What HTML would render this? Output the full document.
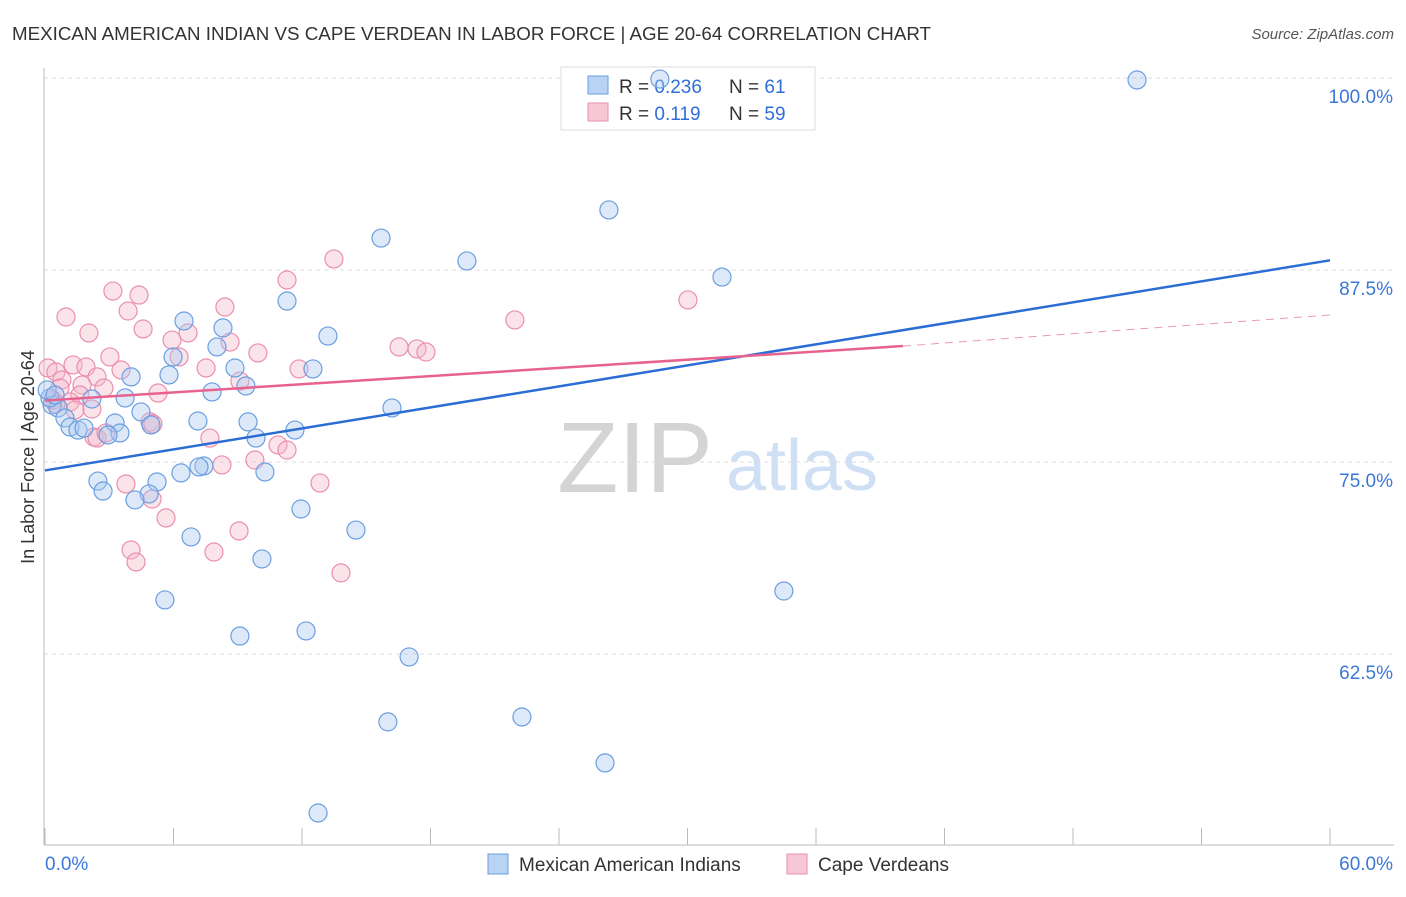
<!DOCTYPE html>
<html><head><meta charset="utf-8"><style>
body{margin:0;background:#fff;font-family:"Liberation Sans",sans-serif;}
svg text{font-family:"Liberation Sans",sans-serif;}
</style></head><body>
<svg id="chart" width="1406" height="892" xmlns="http://www.w3.org/2000/svg">
<text x="12" y="40" font-size="18" fill="#333" textLength="919" lengthAdjust="spacingAndGlyphs">MEXICAN AMERICAN INDIAN VS CAPE VERDEAN IN LABOR FORCE | AGE 20-64 CORRELATION CHART</text>
<text x="1394" y="39" font-size="15" fill="#555" text-anchor="end" font-style="italic">Source: ZipAtlas.com</text>
<g>
<text x="635" y="492" font-size="100" fill="#d4d4d4" text-anchor="middle" font-family="Liberation Serif">ZIP</text>
<text x="802" y="490" font-size="72" fill="#cfe0f5" text-anchor="middle">atlas</text>
</g>
<g id="grid"></g><g id="axes"></g>
<g>
<rect x="561" y="67" width="254" height="63" fill="#fff" stroke="#ddd"/>
<rect x="588" y="76" width="20" height="18" fill="#b8d3f3" stroke="#6b9fe0"/>
<text x="619" y="93" font-size="19" fill="#333">R = <tspan fill="#2f6fd6">0.236</tspan></text>
<text x="729" y="93" font-size="19" fill="#333">N = <tspan fill="#2f6fd6"> 61</tspan></text>
<rect x="588" y="103" width="20" height="18" fill="#f8c7d6" stroke="#ea8fae"/>
<text x="619" y="120" font-size="19" fill="#333">R = <tspan fill="#2f6fd6"> 0.119</tspan></text>
<text x="729" y="120" font-size="19" fill="#333">N = <tspan fill="#2f6fd6">59</tspan></text>
</g>
<g id="marks"></g>
<text transform="translate(34,457) rotate(-90)" font-size="18" fill="#333" text-anchor="middle">In Labor Force | Age 20-64</text>
<g>
<rect x="488" y="854" width="20" height="20" fill="#b8d3f3" stroke="#6b9fe0"/>
<text x="519" y="871" font-size="19" fill="#333">Mexican American Indians</text>
<rect x="787" y="854" width="20" height="20" fill="#f8c7d6" stroke="#ea8fae"/>
<text x="818" y="871" font-size="19" fill="#333">Cape Verdeans</text>
</g>
</svg>
<script>
const yTicks=[100,87.5,75,62.5];
const yTickLabels=["100.0%","87.5%","75.0%","62.5%"];
const xTickVals=[0,6,12,18,24,30,36,42,48,54,60];
const blueX=[50.99,26.33,15.69,19.70,31.61,11.30,6.49,8.31,13.21,8.03,5.98,8.87,12.51,5.79,4.02,9.38,7.80,3.74,2.19,16.20,4.48,0.33,0.61,0.93,1.17,1.54,1.82,3.27,3.50,2.94,4.95,7.14,9.48,9.85,11.67,7.42,7.19,6.35,10.27,2.47,2.71,5.23,4.86,4.20,11.95,14.52,6.82,10.13,5.60,34.50,9.10,12.19,17.00,16.01,22.27,26.15,12.75,28.71,0.23,0.10,0.47];
const blueY=[99.87,91.41,89.58,88.09,87.04,85.48,84.18,83.73,83.20,82.49,81.84,81.12,81.06,80.67,80.54,79.95,79.56,79.17,79.10,78.52,78.26,78.71,78.52,77.87,77.28,77.08,77.21,77.54,76.89,76.76,77.41,77.67,77.61,76.56,77.08,74.74,74.68,74.29,74.35,73.76,73.11,73.70,72.92,72.53,71.94,70.57,70.12,68.69,66.02,66.60,63.67,64.00,62.31,58.08,58.40,55.41,52.15,99.93,79.17,79.69,79.36];
const pinkX=[0.98,3.17,4.39,3.88,2.05,4.58,0.14,0.51,0.79,1.31,1.91,2.43,3.03,3.55,1.73,1.63,2.75,1.17,0.51,2.19,2.29,2.43,2.85,4.90,5.04,5.28,5.93,6.26,6.68,8.40,8.64,9.94,9.10,7.52,7.70,8.26,9.80,10.88,11.30,11.86,11.30,13.49,12.84,16.53,17.37,17.79,21.94,30.02,3.78,5.00,5.65,9.06,7.89,4.02,4.25,13.82,0.37,0.70,1.40];
const pinkY=[84.44,86.13,85.87,84.83,83.40,83.66,81.12,80.86,80.34,81.32,81.19,80.54,81.84,80.99,80.01,79.36,79.82,78.91,78.78,78.45,76.63,76.56,76.89,77.61,77.48,79.49,82.94,81.84,83.40,85.09,82.81,82.10,80.27,81.12,76.56,74.81,75.13,76.11,75.78,81.06,86.85,88.22,73.63,82.49,82.36,82.16,84.25,85.55,73.57,72.59,71.36,70.51,69.14,69.27,68.49,67.78,79.04,79.82,78.39];
const blueTrend=[[0,74.45],[60,88.13]];
const pinkTrendSolid=[[0,79.0],[40.06,82.55]];
const pinkTrendDashed=[[40.06,82.55],[60,84.57]];
const NS="http://www.w3.org/2000/svg";
const sx=v=>45+v/60*1285;
const sy=v=>78+(100-v)/12.5*192;
function mk(parent,tag,attrs){const e=document.createElementNS(NS,tag);for(const k in attrs)e.setAttribute(k,attrs[k]);document.getElementById(parent).appendChild(e);return e;}
yTicks.forEach((t,i)=>{
 const l=mk('grid','line',{x1:44,x2:1394,y1:sy(t),y2:sy(t),stroke:'#ddd','stroke-dasharray':'4,4'});
 
 
 const tx=mk('grid','text',{x:1393,y:sy(t)+25,'font-size':19,fill:'#3b78d8','text-anchor':'end'});
 tx.textContent=yTickLabels[i];
 
 
});
let a=mk('axes','line',{x1:44,x2:44,y1:68,y2:845,stroke:'#bbb'});


a=mk('axes','line',{x1:44,x2:1394,y1:845,y2:845,stroke:'#bbb'});


xTickVals.forEach(v=>{
 const t=mk('axes','line',{x1:sx(v),x2:sx(v),y1:828,y2:845,stroke:'#bbb'});
 
 
});
let xl=mk('axes','text',{x:45,y:870,'font-size':19,fill:'#3b78d8'});xl.textContent='0.0%';


xl=mk('axes','text',{x:1393,y:870,'font-size':19,fill:'#3b78d8','text-anchor':'end'});xl.textContent='60.0%';


function dots(X,Y,fill,stroke,name){X.forEach((x,i)=>{
 const c=mk('marks','circle',{cx:sx(x),cy:sy(Y[i]),r:9,fill:fill,'fill-opacity':0.4,stroke:stroke,'stroke-width':1.2});
 
 
});}
dots(pinkX,pinkY,'#f5b8cb','#ea8fae','cape-verdean-point');
dots(blueX,blueY,'#a9c8ef','#6b9fe0','mexican-american-indian-point');
function line(p,color,name,dash){
 const l=mk('marks','line',{x1:sx(p[0][0]),y1:sy(p[0][1]),x2:sx(p[1][0]),y2:sy(p[1][1]),stroke:color,'stroke-width':dash?1:2.5});
 if(dash)l.setAttribute('stroke-dasharray','8,6');
 
 
}
line(blueTrend,'#2a6dd4','blue-trend-line');
line(pinkTrendSolid,'#e8628f','pink-trend-line');
line(pinkTrendDashed,'#ea9ab5','pink-trend-extension',true);
</script>
</body></html>
